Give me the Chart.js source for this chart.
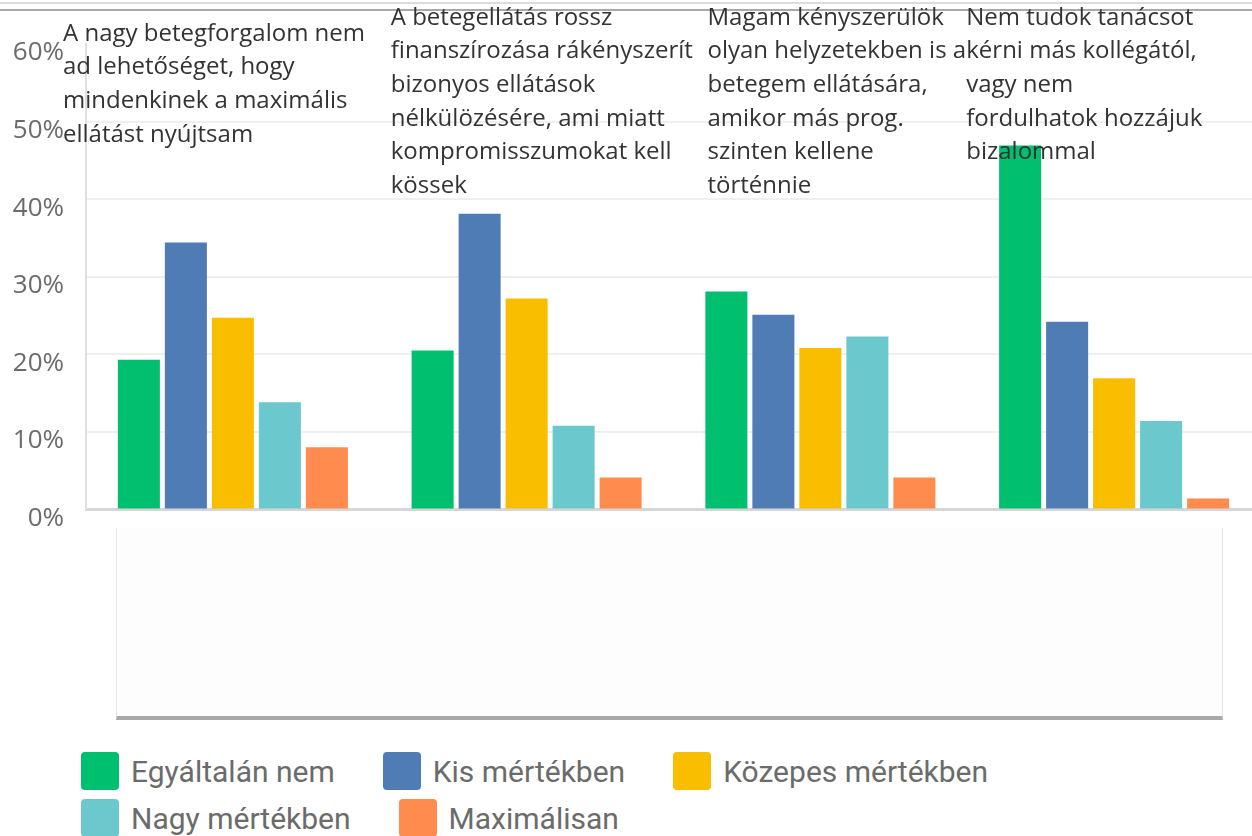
<!DOCTYPE html>
<html>
<head>
<meta charset="utf-8">
<title>Betegellátás</title>
<script src="https://cdn.jsdelivr.net/npm/chart.js@4.4.1/dist/chart.umd.min.js"></script>
<style>
  html, body { margin: 0; padding: 0; background: #fff; overflow: hidden; }
  body { width: 1252px; height: 836px; position: relative; }
  .rule { position: absolute; left: 0; width: 1252px; height: 2px; }
  .rule.light { top: 2px; background: #dcdcdc; }
  .rule.dark { top: 9px; background: #a9a9a9; }
  .xbox {
    position: absolute; left: 116px; top: 528px; width: 1105px; height: 188px;
    border-left: 1px solid #e6e6e6; border-right: 1px solid #e6e6e6;
    border-bottom: 4px solid #a8a8a8; background: #fdfdfd;
  }
  #chartWrap { position: absolute; left: 0; top: 0; }
  #legend {
    position: absolute; left: 81px; top: 752px; width: 1000px;
    display: flex; flex-wrap: wrap; column-gap: 48px; row-gap: 9px;
    font-family: Roboto, sans-serif; font-size: 30px; color: #6b6b6b;
  }
  .item { display: flex; align-items: center; height: 38px; white-space: nowrap; }
  .swatch { width: 38px; height: 38px; border-radius: 4px; margin-right: 12px; }
</style>
</head>
<body>
<div class="rule light"></div>
<div class="rule dark"></div>
<div class="xbox"></div>
<div id="chartWrap"><canvas id="myChart" width="1262" height="547"></canvas></div>
<div id="legend"></div>

<script>
// category labels, one array of lines per question
const categories = [
  ["A nagy betegforgalom nem", "ad lehetőséget, hogy", "mindenkinek a maximális", "ellátást nyújtsam"],
  ["A betegellátás rossz", "finanszírozása rákényszerít", "bizonyos ellátások", "nélkülözésére, ami miatt", "kompromisszumokat kell", "kössek"],
  ["Magam kényszerülök", "olyan helyzetekben is a", "betegem ellátására,", "amikor más prog.", "szinten kellene", "történnie"],
  ["Nem tudok tanácsot", "kérni más kollégától,", "vagy nem", "fordulhatok hozzájuk", "bizalommal"]
];

const seriesNames = ["Egyáltalán nem", "Kis mértékben", "Közepes mértékben", "Nagy mértékben", "Maximálisan"];
const seriesColors = ["#00bf6f", "#507cb6", "#f9be00", "#6bc8cd", "#ff8b4f"];

// percentages
const egyaltalanNem = [19.3, 20.5, 28.1, 46.9];
const kisMertekben = [34.4, 38.1, 25.1, 24.2];
const kozepesMertekben = [24.7, 27.2, 20.8, 16.9];
const nagyMertekben = [13.8, 10.8, 22.3, 11.4];
const maximalisan = [8.0, 4.1, 4.1, 1.4];

const yTicks = [0, 10, 20, 30, 40, 50, 60];

// where the question texts sit relative to their category (left edge / first line)
const labelShiftX = [-23, 11, 34, -1];
const labelShiftY = [16, 0, 0, 0];
const firstLineY = 18;
const lineStep = 33.6;

const seriesValues = [egyaltalanNem, kisMertekben, kozepesMertekben, nagyMertekben, maximalisan];

const topLabels = {
  id: "topLabels",
  afterDatasetsDraw(chart) {
    const { ctx } = chart;
    const x = chart.scales.x;
    const half = (x.getPixelForValue(1) - x.getPixelForValue(0)) / 2;
    ctx.save();
    ctx.font = '24px "Open Sans", sans-serif';
    ctx.fillStyle = "#333333";
    ctx.textAlign = "left";
    ctx.textBaseline = "middle";
    chart.data.labels.forEach((lines, i) => {
      const left = x.getPixelForValue(i) - half + labelShiftX[i];
      lines.forEach((line, j) => {
        ctx.fillText(line, left, firstLineY + labelShiftY[i] + j * lineStep);
      });
    });
    ctx.restore();
  }
};

const ctx = document.getElementById("myChart").getContext("2d");
const chart = new Chart(ctx, {
  type: "bar",
  data: {
    labels: categories,
    datasets: seriesNames.map((name, i) => ({
      label: name,
      data: seriesValues[i],
      backgroundColor: seriesColors[i],
      borderWidth: 0,
      barPercentage: 0.894,
      categoryPercentage: 0.8
    }))
  },
  options: {
    responsive: false,
    animation: false,
    layout: { padding: { top: 44, right: 1, bottom: 37, left: 0 } },
    plugins: {
      legend: { display: false },
      tooltip: { enabled: false }
    },
    scales: {
      x: {
        grid: { display: false, drawTicks: false },
        ticks: { display: false },
        border: { display: true, color: "#d6d6d6", width: 3 }
      },
      y: {
        min: 0,
        max: 60,
        afterFit(scale) { scale.width = 86; },
        afterBuildTicks(scale) { scale.ticks = yTicks.map(v => ({ value: v })); },
        ticks: {
          padding: 22,
          labelOffset: 9,
          color: "#6b6b6b",
          font: { family: "'Open Sans'", size: 26 },
          callback: v => v + "%"
        },
        grid: {
          drawTicks: false,
          lineWidth: 2,
          color: c => (c.tick && c.tick.value === 60 ? "rgba(0,0,0,0)" : "#efefef")
        },
        border: { color: "#e0e0e0", width: 2 }
      }
    }
  },
  plugins: [topLabels]
});

// legend built from the same datasets
const legend = document.getElementById("legend");
chart.data.datasets.forEach(ds => {
  const item = document.createElement("div");
  item.className = "item";
  const sw = document.createElement("span");
  sw.className = "swatch";
  sw.style.background = ds.backgroundColor;
  const txt = document.createElement("span");
  txt.textContent = ds.label;
  item.appendChild(sw);
  item.appendChild(txt);
  legend.appendChild(item);
});
</script>
</body>
</html>
